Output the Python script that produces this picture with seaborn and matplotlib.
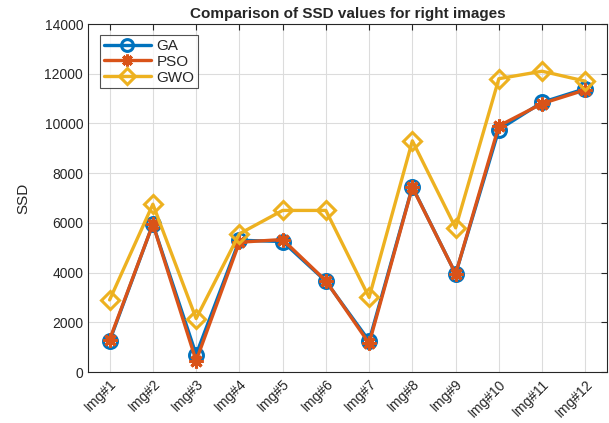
import pandas as pd
import matplotlib
matplotlib.use("Agg")
import matplotlib.pyplot as plt
import seaborn as sns

# values
images = ["Img#1", "Img#2", "Img#3", "Img#4", "Img#5", "Img#6",
          "Img#7", "Img#8", "Img#9", "Img#10", "Img#11", "Img#12"]
ga = [1250, 5950, 700, 5300, 5250, 3650, 1250, 7450, 3950, 9750, 10850, 11400]
pso = [1300, 5950, 450, 5220, 5330, 3670, 1150, 7430, 3950, 9900, 10800, 11350]
gwo = [2900, 6750, 2150, 5560, 6500, 6500, 3000, 9300, 5800, 11800, 12100, 11700]

idx = list(range(1, len(images) + 1))
df = pd.DataFrame({"idx": idx * 3,
                   "SSD": ga + pso + gwo,
                   "method": ["GA"] * 12 + ["PSO"] * 12 + ["GWO"] * 12})

sns.set_style("white")
plt.rcParams["font.family"] = ["Liberation Sans", "DejaVu Sans"]

fig = plt.figure(figsize=(6.09, 4.23), dpi=100)
ax = fig.add_axes([88 / 609, 51 / 423, 519 / 609, 348 / 423])

styles = {
    "GA": dict(color="#0072BD", marker="o", ms=10),
    "PSO": dict(color="#D95319", marker=(8, 2, 0), ms=10),
    "GWO": dict(color="#EDB120", marker="D", ms=9),
}
for name, st in styles.items():
    sub = df[df["method"] == name]
    sns.lineplot(data=sub, x="idx", y="SSD", ax=ax, label=name, lw=2.4,
                 color=st["color"], marker=st["marker"], markersize=st["ms"],
                 markerfacecolor="none", markeredgecolor=st["color"],
                 markeredgewidth=2.2)

ax.set_xlim(0.5, 12.5)
ax.set_ylim(0, 14000)
ax.set_xticks(idx)
ax.set_xticklabels(images, rotation=45, ha="right", rotation_mode="anchor",
                   fontsize=10, color="#262626")
ax.set_yticks(range(0, 14001, 2000))
ax.tick_params(axis="y", labelsize=10, labelcolor="#262626")
ax.tick_params(direction="in", length=4, top=True, right=True, color="#262626")
ax.grid(True, color="#dcdcdc", lw=0.8)
for s in ax.spines.values():
    s.set_color("#262626")
    s.set_linewidth(0.8)

ax.set_xlabel("")
ax.set_ylabel("SSD", fontsize=11, labelpad=10)
ax.set_title("Comparison of SSD values for right images", fontsize=11,
             fontweight="bold", pad=4)

leg = ax.legend(loc="upper left", bbox_to_anchor=(0.023, 0.968), fontsize=11,
                handlelength=3.1, frameon=True, fancybox=False,
                borderaxespad=0, borderpad=0.25, labelspacing=0.12,
                handletextpad=0.35, markerscale=0.85)
leg.get_frame().set_edgecolor("#262626")
leg.get_frame().set_linewidth(0.8)

fig.savefig("out.png", dpi=100)
